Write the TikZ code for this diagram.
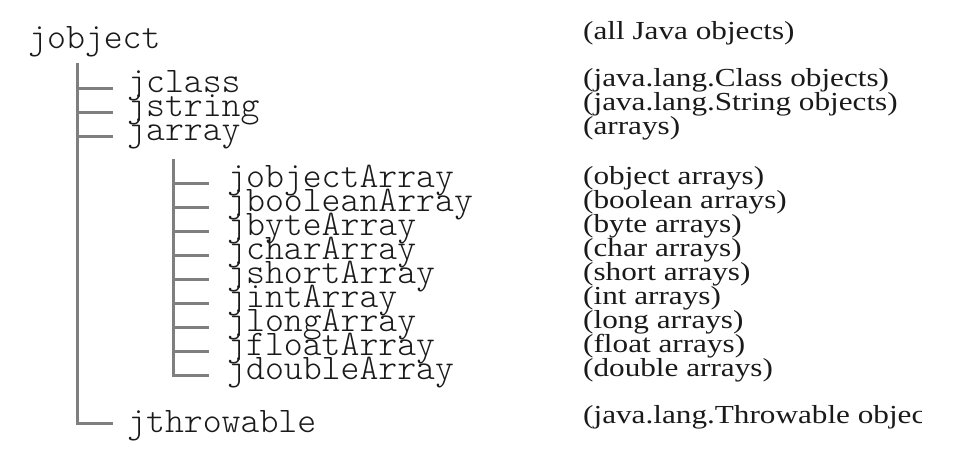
\documentclass[tikz,border=0pt]{standalone}
\usepackage{fontspec}
\newfontfamily\monox{lmmonolt10-regular.otf}
\newfontfamily\serifx{Liberation Serif}[FakeStretch=1.2]
\definecolor{treegray}{HTML}{7F7F7F}
\definecolor{inkc}{HTML}{1A1A1A}
\begin{document}
\begin{tikzpicture}[x=1pt,y=-1pt,
  mono/.style={anchor=base west,inner sep=0pt,text=inkc,font=\monox\fontsize{36}{24}\selectfont},
  note/.style={anchor=base west,inner sep=0pt,text=inkc,font=\serifx\fontsize{26}{24}\selectfont},
  tree/.style={draw=treegray,line width=3pt,line cap=butt,line join=miter}]
\useasboundingbox[fill=white] (0,0) rectangle (980,466);
% type names
\node[mono] (jobject) at (28,48) {jobject};
\node[mono] (jclass) at (127,92) {jclass};
\node[mono] (jstring) at (127,116) {jstring};
\node[mono] (jarray) at (127,140) {jarray};
\foreach \n [count=\i from 0] in {jobjectArray,jbooleanArray,jbyteArray,jcharArray,jshortArray,jintArray,jlongArray,jfloatArray,jdoubleArray}
  \node[mono] (\n) at (227,187+24*\i) {\n};
\node[mono] (jthrowable) at (127,432) {jthrowable};
% notes
\node[note] (n0) at (583,39) {(all Java objects)};
\node[note] (n1) at (583,86) {(java.lang.Class objects)};
\node[note] (n2) at (583,110) {(java.lang.String objects)};
\node[note] (n3) at (583,134) {(arrays)};
\foreach \t [count=\i from 0] in {object,boolean,byte,char,short,int,long,float,double}
  \node[note] (a\i) at (583,184+24*\i) {(\t\ arrays)};
\begin{scope}
\clip (560,390) rectangle (921,460);
\node[note] (n4) at (583,423) {(java.lang.Throwable objects)};
\end{scope}
% tree lines
\coordinate (topA) at (77,63);
\coordinate (cornerA) at (77,423);
\coordinate (endA) at (113,423);
\draw[tree] (topA) -- (cornerA) -- (endA);
\foreach \y [count=\i] in {88,112,136} {
  \coordinate (sA\i) at (77,\y);
  \coordinate (eA\i) at (113,\y);
  \draw[tree] (sA\i) -- (eA\i);
}
\coordinate (topB) at (173,159);
\coordinate (cornerB) at (173,375);
\coordinate (endB) at (209,375);
\draw[tree] (topB) -- (cornerB) -- (endB);
\foreach \i in {0,...,7} {
  \coordinate (sB\i) at (173,183+24*\i);
  \coordinate (eB\i) at (209,183+24*\i);
  \draw[tree] (sB\i) -- (eB\i);
}
\end{tikzpicture}
\end{document}
